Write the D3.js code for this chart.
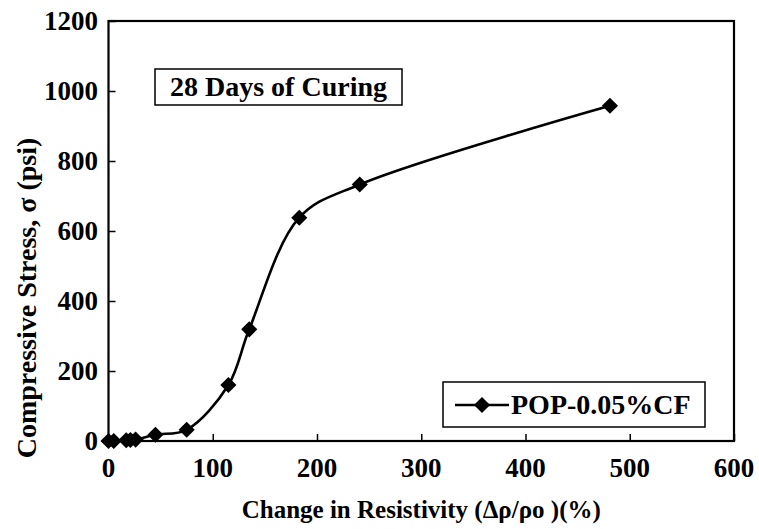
<!DOCTYPE html>
<html>
<head>
<meta charset="utf-8">
<script src="https://cdn.jsdelivr.net/npm/d3@7"></script>
<style>
  body { margin: 0; background: #fff; }
  text { font-family: "Liberation Serif", "Times New Roman", serif; font-weight: bold; fill: #000; }
</style>
</head>
<body>
<svg id="chart" width="759" height="529"></svg>
<script>
// values
var resistivityChange = [0, 5, 17, 21, 26, 45, 75, 115, 135, 183, 241, 481];
var compressiveStress = [0, 0, 2, 3, 4, 18, 32, 160, 319, 638, 733, 958];
var xTicks = [0, 100, 200, 300, 400, 500, 600];
var yTicks = [0, 200, 400, 600, 800, 1000, 1200];
var seriesName = "POP-0.05%CF";
var noteText = "28 Days of Curing";

var svg = d3.select("#chart");
var plotL = 108.5, plotR = 734, plotT = 21, plotB = 441;

var x = d3.scaleLinear().domain([0, 600]).range([plotL, plotR]);
var y = d3.scaleLinear().domain([0, 1200]).range([plotB, plotT]);

var pts = resistivityChange.map(function(d, i) { return [d, compressiveStress[i]]; });

// frame
svg.append("rect")
  .attr("x", plotL).attr("y", plotT)
  .attr("width", plotR - plotL).attr("height", plotB - plotT)
  .attr("fill", "none").attr("stroke", "#000").attr("stroke-width", 2.2);

// axes (ticks inward)
var xAxis = svg.append("g").attr("transform", "translate(0," + plotB + ")")
  .call(d3.axisTop(x).tickValues(xTicks).tickSize(7).tickFormat(""));
var yAxis = svg.append("g").attr("transform", "translate(" + plotL + ",0)")
  .call(d3.axisRight(y).tickValues(yTicks).tickSize(7).tickFormat(""));
[xAxis, yAxis].forEach(function(a) {
  a.select(".domain").remove();
  a.selectAll("line").attr("stroke", "#000").attr("stroke-width", 1.5);
});

// tick labels
svg.selectAll(".xl").data(xTicks).enter().append("text")
  .attr("x", function(d) { return x(d); })
  .attr("y", 477)
  .attr("text-anchor", "middle")
  .style("font-size", "27px")
  .text(function(d) { return d; });

svg.selectAll(".yl").data(yTicks).enter().append("text")
  .attr("x", 98)
  .attr("y", function(d) { return y(d) + 9; })
  .attr("text-anchor", "end")
  .style("font-size", "27px")
  .text(function(d) { return d; });

// axis titles
svg.append("text")
  .attr("x", (plotL + plotR) / 2).attr("y", 518)
  .attr("text-anchor", "middle")
  .style("font-size", "25px")
  .text("Change in Resistivity (\u0394\u03c1/\u03c1o )(%)");

svg.append("text")
  .attr("transform", "translate(36,298) rotate(-90)")
  .attr("text-anchor", "middle")
  .style("font-size", "28px")
  .text("Compressive Stress, \u03c3 (psi)");

// series
var line = d3.line()
  .x(function(d) { return x(d[0]); })
  .y(function(d) { return y(d[1]); })
  .curve(d3.curveCatmullRom.alpha(0.5));

svg.append("path")
  .datum(pts)
  .attr("d", line)
  .attr("fill", "none").attr("stroke", "#000").attr("stroke-width", 2.6);

var diamond = d3.symbol().type(d3.symbolSquare).size(130);
svg.selectAll(".pt").data(pts).enter().append("path")
  .attr("d", diamond)
  .attr("transform", function(d) { return "translate(" + x(d[0]) + "," + y(d[1]) + ") rotate(45)"; })
  .attr("fill", "#000");

// note box
svg.append("rect")
  .attr("x", 155).attr("y", 69).attr("width", 247).attr("height", 36)
  .attr("fill", "#fff").attr("stroke", "#000").attr("stroke-width", 1.5);
svg.append("text")
  .attr("x", 278.5).attr("y", 96)
  .attr("text-anchor", "middle")
  .style("font-size", "28px")
  .text(noteText);

// legend
var lg = svg.append("g");
lg.append("rect")
  .attr("x", 443).attr("y", 382).attr("width", 262).attr("height", 45)
  .attr("fill", "#fff").attr("stroke", "#000").attr("stroke-width", 1.5);
lg.append("line")
  .attr("x1", 455).attr("x2", 509).attr("y1", 405).attr("y2", 405)
  .attr("stroke", "#000").attr("stroke-width", 2.6);
lg.append("path")
  .attr("d", diamond)
  .attr("transform", "translate(482,405) rotate(45)")
  .attr("fill", "#000");
lg.append("text")
  .attr("x", 511).attr("y", 414)
  .style("font-size", "28px")
  .text(seriesName);
</script>
</body>
</html>
